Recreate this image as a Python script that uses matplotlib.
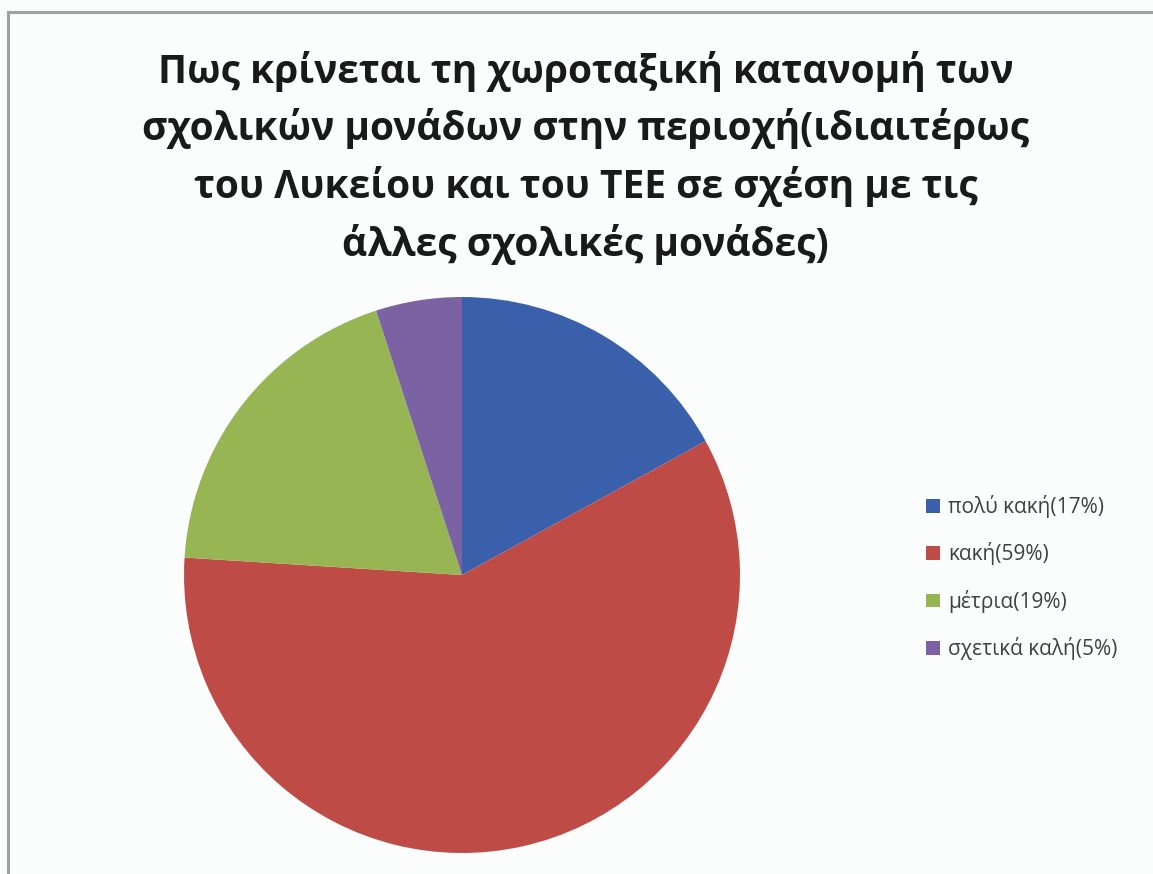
import matplotlib
matplotlib.use("Agg")
from matplotlib import pyplot as plt
from matplotlib.patches import Patch
from matplotlib.lines import Line2D

# chart data
labels = ["πολύ κακή(17%)", "κακή(59%)", "μέτρια(19%)", "σχετικά καλή(5%)"]
values = [17, 59, 19, 5]
colors = ["#3a5fab", "#bf4b47", "#98b553", "#7b62a3"]

title = ("Πως κρίνεται τη χωροταξική κατανομή των\n"
         "σχολικών μονάδων στην περιοχή(ιδιαιτέρως\n"
         "του Λυκείου και του ΤΕΕ σε σχέση με τις\n"
         "άλλες σχολικές μονάδες)")

plt.rcParams['font.family'] = ['Open Sans', 'DejaVu Sans']

fig = plt.figure(figsize=(11.53, 8.74), dpi=100)
fig.patch.set_facecolor("#fbfdfc")

# gray frame on the left and top (the rest is cropped off in the original)
fig.add_artist(Line2D([8 / 1153, 8 / 1153], [0, 1 - 12 / 874], color="#a0a0a0", lw=2.2,
                      transform=fig.transFigure))
fig.add_artist(Line2D([8 / 1153, 1], [1 - 12 / 874, 1 - 12 / 874], color="#a0a0a0", lw=2.2,
                      transform=fig.transFigure))

# pie
ax = fig.add_axes([0.1596, 0.024, 0.4822, 0.6362])
ax.pie(values, colors=colors, startangle=90, counterclock=False, radius=1)
ax.set_xlim(-1, 1)
ax.set_ylim(-1, 1)
ax.set_aspect("equal")
ax.axis("off")

fig.text(0.508, 0.942, title, ha="center", va="top", fontsize=28,
         fontweight="bold", color="#1a1a1a", linespacing=1.52)

handles = [Patch(facecolor=c, edgecolor="none") for c in colors]
fig.legend(handles, labels, loc="upper left", bbox_to_anchor=(0.787, 0.455),
           frameon=False, fontsize=15, handlelength=0.65, handleheight=0.65,
           handletextpad=0.4, labelspacing=1.17, labelcolor="#404040")

fig.savefig("out.png", dpi=100, facecolor=fig.get_facecolor())
